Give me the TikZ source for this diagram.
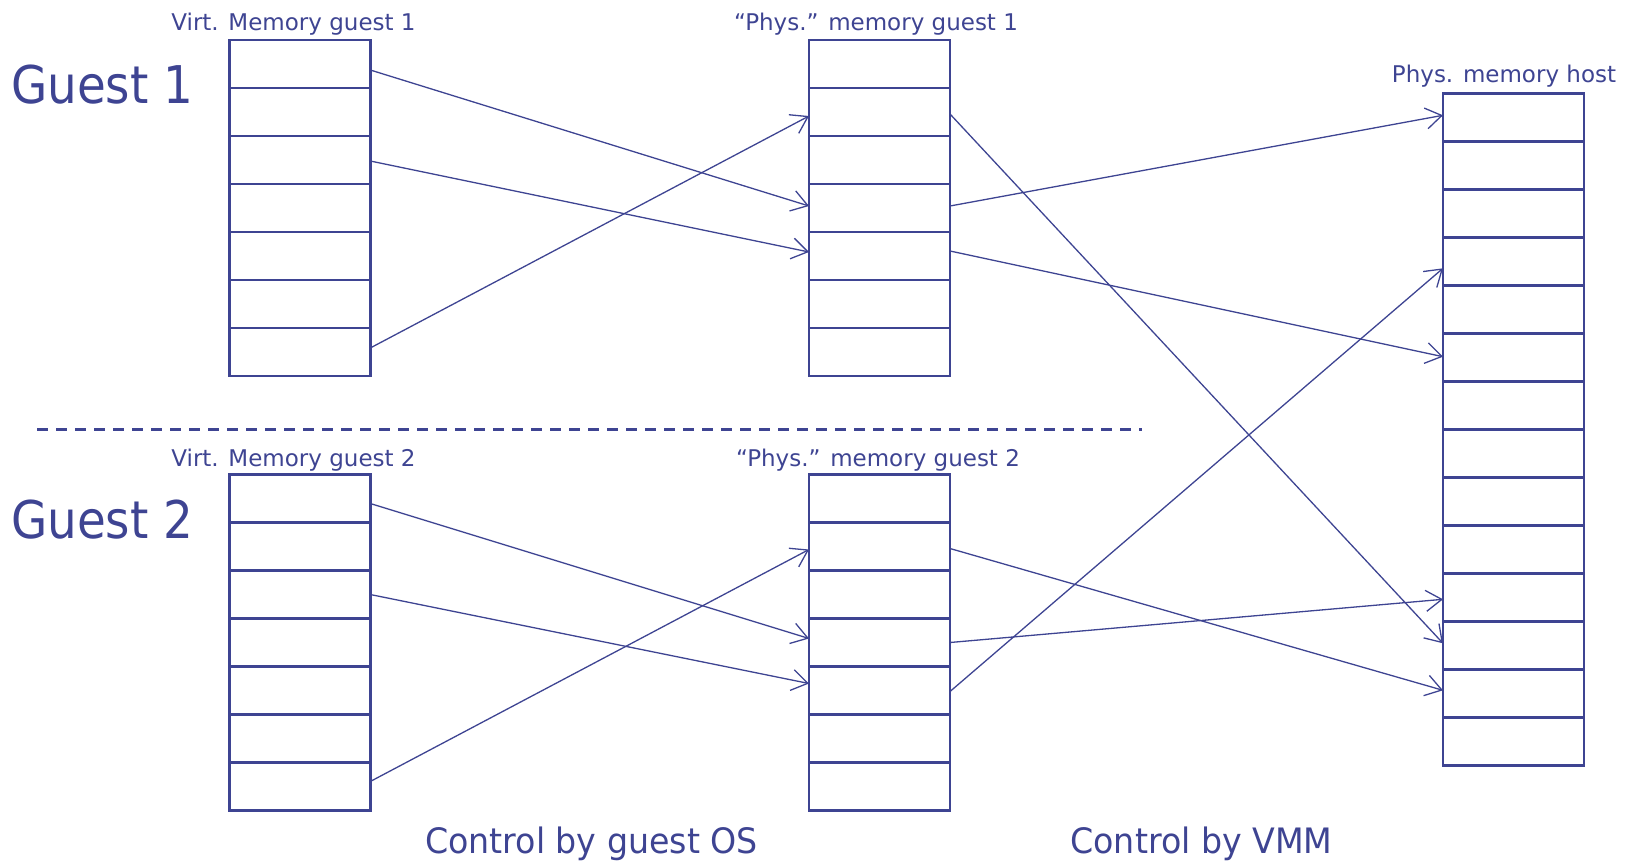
\documentclass[tikz,border=0pt]{standalone}
\usepackage{fontspec}
\setmainfont{DejaVu Sans}
\usetikzlibrary{arrows.meta,calc}
\definecolor{ink}{RGB}{62,68,146}
\begin{document}
\begin{tikzpicture}[x=1pt,y=-1pt,
  cell/.style={draw=ink,line width=2.8pt,minimum width=141pt,minimum height=48pt,outer sep=0pt,inner sep=0pt},
  map/.style={draw=ink,line width=1.3pt,-{Straight Barb[length=16pt,width=21pt]}},
  lbl/.style={text=ink,font=\fontsize{23}{26}\selectfont,anchor=base,inner sep=0pt},
  guest/.style={text=ink,font=\fontsize{52}{60}\selectfont,anchor=base west,inner sep=0pt},
  ctl/.style={text=ink,font=\fontsize{35}{40}\selectfont,anchor=base,inner sep=0pt},
  sep/.style={draw=ink,line width=3pt,dash pattern=on 11pt off 8pt}]
\useasboundingbox (0,0) rectangle (1632,862);

% memory columns
\foreach \i in {0,...,6} {
  \node[cell] (v1-\i) at (299.75, 64+48*\i) {};
  \node[cell] (p1-\i) at (879.5, 64+48*\i) {};
  \node[cell] (v2-\i) at (299.75, 498.5+48*\i) {};
  \node[cell] (p2-\i) at (879.5, 498.5+48*\i) {};
}
\foreach \i in {0,...,13} {
  \node[cell] (h-\i) at (1513.5, 117.3+48*\i) {};
}

% labels
\node[lbl] (lv1) at (293.5,30) {Virt. Memory guest 1};
\node[lbl] (lp1) at (876,30) {“Phys.” memory guest 1};
\node[lbl] (lh) at (1504,82) {Phys. memory host};
\node[lbl] (lv2) at (293.5,466) {Virt. Memory guest 2};
\node[lbl] (lp2) at (878,466) {“Phys.” memory guest 2};

\node[guest] (g1) at (11,103) {\scalebox{0.9}[1]{Guest 1}};
\node[guest] (g2) at (11,538) {\scalebox{0.9}[1]{Guest 2}};

\node[ctl] (c1) at (591.5,853) {\scalebox{0.95}[1]{Control by guest OS}};
\node[ctl] (c2) at (1201.5,853) {\scalebox{0.95}[1]{Control by VMM}};

% separator
\coordinate (s0) at (37,429);
\coordinate (s1) at (1142,429);
\draw[sep] (s0) -- (s1);

% guest 1 mappings
\draw[map] ($(v1-0.east)+(0,6)$) -- ($(p1-3.west)+(0,-2)$);
\draw[map] ($(v1-2.east)+(0,1)$) -- ($(p1-4.west)+(0,-4)$);
\draw[map] ($(v1-6.east)+(0,-4)$) -- ($(p1-1.west)+(0,4)$);
\draw[map] ($(p1-1.east)+(0,2)$) -- ($(h-11.west)+(0,-2)$);
\draw[map] ($(p1-3.east)+(0,-2)$) -- ($(h-0.west)+(0,-2)$);
\draw[map] ($(p1-4.east)+(0,-5)$) -- ($(h-5.west)+(0,-0.6)$);

% guest 2 mappings
\draw[map] ($(v2-0.east)+(0,5)$) -- ($(p2-3.west)+(0,-4)$);
\draw[map] ($(v2-2.east)+(0,0)$) -- ($(p2-4.west)+(0,-7)$);
\draw[map] ($(v2-6.east)+(0,-5)$) -- ($(p2-1.west)+(0,3)$);
\draw[map] ($(p2-1.east)+(0,2)$) -- ($(h-12.west)+(0,-3)$);
\draw[map] ($(p2-3.east)+(0,0)$) -- ($(h-10.west)+(0,2)$);
\draw[map] ($(p2-4.east)+(0,1)$) -- ($(h-3.west)+(0,7)$);
\end{tikzpicture}
\end{document}
